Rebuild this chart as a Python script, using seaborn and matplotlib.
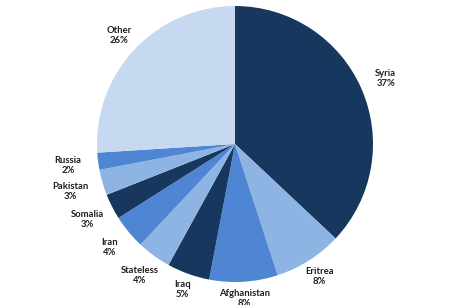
import numpy as np
import matplotlib
matplotlib.use("Agg")
import matplotlib.pyplot as plt
import seaborn as sns

countries = ["Syria", "Eritrea", "Afghanistan", "Iraq", "Stateless", "Iran",
             "Somalia", "Pakistan", "Russia", "Other"]
shares = [37, 8, 8, 5, 4, 4, 3, 3, 2, 26]
slice_colors = ["#17375E", "#8EB4E3", "#4F86D3", "#17375E", "#8EB4E3", "#4F86D3",
                "#17375E", "#8EB4E3", "#4F86D3", "#C6D9F1"]

sns.set_theme(style="white")
plt.rcParams["font.family"] = ["Lato", "DejaVu Sans"]

palette = sns.color_palette(slice_colors)

fig = plt.figure(figsize=(4.6, 3.05), dpi=100)
ax = fig.add_axes([0, 0, 1, 1])
wedges, _ = ax.pie(shares, colors=palette, startangle=90, counterclock=False,
                   radius=1.0, wedgeprops=dict(linewidth=0))

label_r = [1.19, 1.14, 1.12, 1.12, 1.18, 1.18, 1.2, 1.24, 1.22, 1.15]
for w, name, val, r in zip(wedges, countries, shares, label_r):
    ang = np.deg2rad((w.theta1 + w.theta2) / 2)
    x, y = r * np.cos(ang), r * np.sin(ang)
    ax.text(x, y, f"{name}\n{val}%", ha="center", va="center", fontsize=6.8,
            color="#1e1e1e", fontweight="bold", fontstyle="normal",
            linespacing=1.15)

R = 138.0
cx, cy = 235.0, 144.0
ax.set_aspect("auto")
ax.set_xlim(-cx / R, (460 - cx) / R)
ax.set_ylim(-(305 - cy) / R, cy / R)
ax.axis("off")
fig.savefig("out.png", dpi=100)
